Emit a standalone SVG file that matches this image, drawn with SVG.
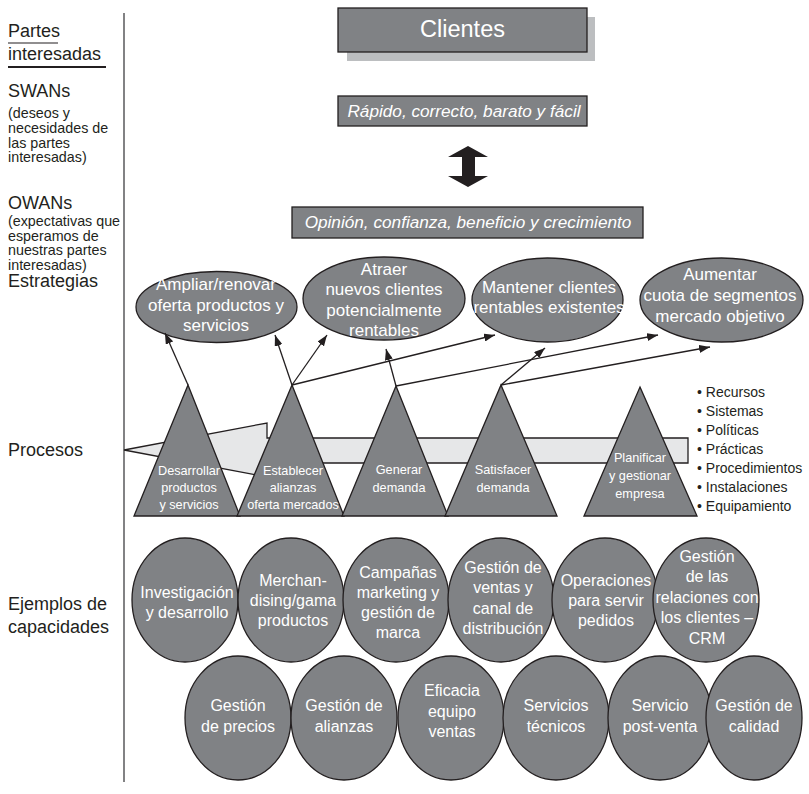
<svg xmlns="http://www.w3.org/2000/svg" width="809" height="794" viewBox="0 0 809 794">
<defs>
<style>
text{font-family:"Liberation Sans",Arial,sans-serif;}
.lbl{fill:#231f20;font-size:18px;}
.sm{fill:#231f20;font-size:14.3px;}
.box{fill:#808285;stroke:#231f20;stroke-width:1.3;}
.w{fill:#ffffff;text-anchor:middle;}
.it{font-style:italic;font-size:17.2px;}
.st{font-size:17px;}
.tri{font-size:12.7px;}
.cap{font-size:16px;}
.bul{fill:#231f20;font-size:14px;}
.con{stroke:#231f20;stroke-width:1.3;fill:none;marker-end:url(#ah);}
</style>
<marker id="ah" markerUnits="userSpaceOnUse" markerWidth="12" markerHeight="8" refX="11" refY="4" orient="auto">
<path d="M0,0 L11,4 L0,8 z" fill="#231f20"/>
</marker>
</defs>
<rect width="809" height="794" fill="#ffffff"/>

<g id="left-labels">
<line x1="124" y1="13" x2="124" y2="782" stroke="#58595b" stroke-width="1.5"/>
<text class="lbl" x="8" y="37">Partes</text>
<line x1="8" y1="43" x2="58" y2="43" stroke="#231f20" stroke-width="1.2"/>
<text class="lbl" x="8" y="60">interesadas</text>
<line x1="8" y1="67" x2="106" y2="67" stroke="#231f20" stroke-width="2"/>
<text class="lbl" x="8" y="97">SWANs</text>
<text class="sm" x="8" y="118">(deseos y</text>
<text class="sm" x="8" y="133">necesidades de</text>
<text class="sm" x="8" y="148">las partes</text>
<text class="sm" x="8" y="162">interesadas)</text>
<text class="lbl" x="8" y="209">OWANs</text>
<text class="sm" x="8" y="226">(expectativas que</text>
<text class="sm" x="8" y="240.5">esperamos de</text>
<text class="sm" x="8" y="255">nuestras partes</text>
<text class="sm" x="8" y="269.5">interesadas)</text>
<text class="lbl" x="8" y="287">Estrategias</text>
<text class="lbl" x="8" y="456">Procesos</text>
<text class="lbl" x="8" y="610">Ejemplos de</text>
<text class="lbl" x="8" y="633">capacidades</text>
</g>

<g id="clientes">
<rect x="347" y="17" width="248" height="44" fill="#bcbec0"/>
<rect class="box" x="338" y="8" width="249" height="44"/>
<text class="w" x="462.5" y="37" font-size="23.5">Clientes</text>
</g>

<g id="swans-box">
<rect class="box" x="338" y="96" width="249" height="30"/>
<text class="w it" x="464" y="117">Rápido, correcto, barato y fácil</text>
</g>

<g id="double-arrow">
<polygon points="468,146 488,157 475,157 475,176 488,176 468,187 448,176 462,176 462,157 448,157" fill="#231f20"/>
</g>

<g id="owans-box">
<rect class="box" x="292" y="207" width="351" height="31"/>
<text class="w it" x="468" y="228">Opinión, confianza, beneficio y crecimiento</text>
</g>

<g id="estrategias">
<g id="e1">
<ellipse class="box" cx="216.5" cy="307" rx="80.5" ry="35.5"/>
<text class="w st" x="216" y="290">Ampliar/renovar</text>
<text class="w st" x="216" y="311">oferta productos y</text>
<text class="w st" x="216" y="331">servicios</text>
</g>
<g id="e2">
<ellipse class="box" cx="384" cy="298.5" rx="81" ry="41.5"/>
<text class="w st" x="384" y="275">Atraer</text>
<text class="w st" x="384" y="295">nuevos clientes</text>
<text class="w st" x="384" y="315.5">potencialmente</text>
<text class="w st" x="384" y="336">rentables</text>
</g>
<g id="e3">
<ellipse class="box" cx="547.5" cy="300" rx="75.5" ry="42"/>
<text class="w st" x="549" y="293">Mantener clientes</text>
<text class="w st" x="549" y="313">rentables existentes</text>
</g>
<g id="e4">
<ellipse class="box" cx="721.5" cy="300" rx="81.5" ry="42"/>
<text class="w st" x="720" y="280">Aumentar</text>
<text class="w st" x="720" y="301">cuota de segmentos</text>
<text class="w st" x="720" y="322">mercado objetivo</text>
</g>
</g>

<g id="procesos">
<g id="block-arrow">
<polygon points="124,450 267,423 267,438 688,438 688,463 267,463 267,477" fill="#e6e7e8" stroke="#231f20" stroke-width="1.3" stroke-linejoin="miter"/>
</g>
<g id="t1">
<polygon class="box" points="188,385 240,516 134,516"/>
<text class="w tri" x="189" y="475">Desarrollar</text>
<text class="w tri" x="189" y="492">productos</text>
<text class="w tri" x="189" y="509">y servicios</text>
</g>
<g id="t2">
<polygon class="box" points="292,385 344,516 237,516"/>
<text class="w tri" x="293" y="475">Establecer</text>
<text class="w tri" x="293" y="492">alianzas</text>
<text class="w tri" x="293" y="509">oferta mercados</text>
</g>
<g id="t3">
<polygon class="box" points="396,386 448,516 342,516"/>
<text class="w tri" x="399" y="474">Generar</text>
<text class="w tri" x="399" y="492">demanda</text>
</g>
<g id="t4">
<polygon class="box" points="501,385 557,516 445,516"/>
<text class="w tri" x="503" y="474">Satisfacer</text>
<text class="w tri" x="503" y="492">demanda</text>
</g>
<g id="t5">
<polygon class="box" points="640,387 697,516 584,516"/>
<text class="w tri" x="640" y="462">Planificar</text>
<text class="w tri" x="640" y="480">y gestionar</text>
<text class="w tri" x="640" y="498">empresa</text>
</g>
<g id="recursos-list">
<text class="bul" x="697" y="397">• Recursos</text>
<text class="bul" x="697" y="416">• Sistemas</text>
<text class="bul" x="697" y="435">• Políticas</text>
<text class="bul" x="697" y="454">• Prácticas</text>
<text class="bul" x="697" y="473">• Procedimientos</text>
<text class="bul" x="697" y="492">• Instalaciones</text>
<text class="bul" x="697" y="511">• Equipamiento</text>
</g>
</g>

<g id="connectors">
<line class="con" x1="188" y1="385" x2="165" y2="333"/>
<line class="con" x1="292" y1="385" x2="275" y2="335"/>
<line class="con" x1="292" y1="385" x2="327" y2="335"/>
<line class="con" x1="292" y1="385" x2="495" y2="335"/>
<line class="con" x1="396" y1="386" x2="386" y2="349"/>
<line class="con" x1="396" y1="386" x2="658" y2="335"/>
<line class="con" x1="501" y1="385" x2="545" y2="348"/>
<line class="con" x1="501" y1="385" x2="710" y2="347"/>
</g>

<g id="capacidades">
<g id="c1"><ellipse class="box" cx="185" cy="600" rx="53" ry="62"/>
<text class="w cap" x="187" y="598">Investigación</text>
<text class="w cap" x="187" y="618">y desarrollo</text></g>
<g id="c2"><ellipse class="box" cx="291" cy="600" rx="53" ry="62"/>
<text class="w cap" x="293" y="586">Merchan-</text>
<text class="w cap" x="293" y="606">dising/gama</text>
<text class="w cap" x="293" y="626">productos</text></g>
<g id="c3"><ellipse class="box" cx="396" cy="600" rx="53" ry="62"/>
<text class="w cap" x="398" y="578">Campañas</text>
<text class="w cap" x="398" y="598">marketing y</text>
<text class="w cap" x="398" y="618">gestión de</text>
<text class="w cap" x="398" y="638">marca</text></g>
<g id="c4"><ellipse class="box" cx="501" cy="600" rx="53" ry="62"/>
<text class="w cap" x="503" y="573">Gestión de</text>
<text class="w cap" x="503" y="593">ventas y</text>
<text class="w cap" x="503" y="614">canal de</text>
<text class="w cap" x="503" y="634">distribución</text></g>
<g id="c5"><ellipse class="box" cx="605" cy="600" rx="53" ry="62"/>
<text class="w cap" x="606" y="586">Operaciones</text>
<text class="w cap" x="606" y="606">para servir</text>
<text class="w cap" x="606" y="626">pedidos</text></g>
<g id="c6"><ellipse class="box" cx="706" cy="600" rx="53" ry="62"/>
<text class="w cap" x="707" y="562">Gestión</text>
<text class="w cap" x="707" y="582">de las</text>
<text class="w cap" x="707" y="603">relaciones con</text>
<text class="w cap" x="707" y="623">los clientes –</text>
<text class="w cap" x="707" y="644">CRM</text></g>
<g id="c7"><ellipse class="box" cx="238" cy="718" rx="53" ry="62"/>
<text class="w cap" x="238" y="711">Gestión</text>
<text class="w cap" x="238" y="732">de precios</text></g>
<g id="c8"><ellipse class="box" cx="344" cy="718" rx="53" ry="62"/>
<text class="w cap" x="344" y="711">Gestión de</text>
<text class="w cap" x="344" y="732">alianzas</text></g>
<g id="c9"><ellipse class="box" cx="451" cy="718" rx="53" ry="62"/>
<text class="w cap" x="452" y="696">Eficacia</text>
<text class="w cap" x="452" y="717">equipo</text>
<text class="w cap" x="452" y="737">ventas</text></g>
<g id="c10"><ellipse class="box" cx="556" cy="718" rx="53" ry="62"/>
<text class="w cap" x="556" y="711">Servicios</text>
<text class="w cap" x="556" y="732">técnicos</text></g>
<g id="c11"><ellipse class="box" cx="660" cy="718" rx="52" ry="62"/>
<text class="w cap" x="660" y="711">Servicio</text>
<text class="w cap" x="660" y="732">post-venta</text></g>
<g id="c12"><ellipse class="box" cx="754" cy="718" rx="48" ry="62"/>
<text class="w cap" x="754" y="711">Gestión de</text>
<text class="w cap" x="754" y="732">calidad</text></g>
</g>
</svg>
